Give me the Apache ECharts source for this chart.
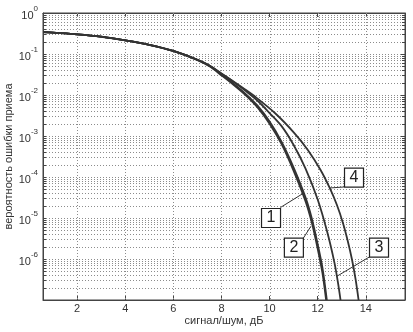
<!DOCTYPE html>
<html>
<head>
<meta charset="utf-8">
<script src="https://cdn.jsdelivr.net/npm/echarts@6/dist/echarts.min.js"></script>
<style>html,body{margin:0;padding:0;background:#fff;}#c{width:413px;height:332px;}</style>
</head>
<body>
<div id="c"></div>
<script>
// ---- data ----
const snr1 = [0.58,1,2,3,4,5,6,7,7.5,8,8.5,9,9.5,10,10.5,11,11.5,11.75,12,12.2,12.35];
const pe1  = [0.344,0.331,0.302,0.263,0.214,0.166,0.1175,0.0708,0.0501,0.0302,0.0178,0.0100,0.00501,0.00200,6.31e-4,1.41e-4,2.51e-5,7.94e-6,1.78e-6,4.47e-7,1e-7];
const snr2 = [0.58,1,2,3,4,5,6,7,7.5,8,8.5,9,9.5,10,10.5,11,11.5,11.75,12,12.2,12.38];
const pe2  = [0.344,0.331,0.302,0.264,0.215,0.168,0.119,0.0725,0.0515,0.0315,0.0188,0.0107,0.0055,0.00225,7.2e-4,1.7e-4,3.1e-5,1.0e-5,2.3e-6,6.0e-7,1e-7];
const snr3 = [0.58,1,2,3,4,5,6,7,7.5,8,8.5,9,9.5,10,10.5,11,11.5,12,12.4,12.7,12.85,12.95];
const pe3  = [0.344,0.331,0.302,0.264,0.215,0.168,0.119,0.0725,0.0525,0.0331,0.0209,0.0126,0.00724,0.00363,0.00174,6.03e-4,1.58e-4,2.82e-5,4.47e-6,7.94e-7,2.51e-7,1e-7];
const snr4 = [0.58,1,2,3,4,5,6,7,7.5,8,8.5,9,9.31,10.22,11.03,11.59,12.12,12.50,12.80,13.05,13.24,13.43,13.58,13.70];
const pe4  = [0.344,0.331,0.302,0.264,0.215,0.168,0.119,0.0725,0.0525,0.0335,0.0214,0.0135,0.0100,3.64e-3,1.18e-3,4.56e-4,1.48e-4,5.40e-5,2.07e-5,7.55e-6,2.90e-6,9.46e-7,3.08e-7,1e-7];
const xTicks = [2,4,6,8,10,12,14];
const xMin = 0.58, xMax = 15.63;
const yMin = 1e-7, yMax = 1;
const xName = 'сигнал/шум, дБ';
const yName = 'вероятность ошибки приема';
const curveLabels = ['1','2','3','4'];
// annotation boxes: [boxX, boxY, leaderFromX, leaderFromY, leaderToX, leaderToY]
const notes = [
  [10.06, 1.0e-5, 10.45, 1.80e-5, 11.40, 4.0e-5],
  [11.01, 1.9e-6, 11.40, 3.2e-6, 11.72, 6.3e-6],
  [14.55, 1.9e-6, 14.17, 1.14e-6, 12.80, 3.8e-7],
  [13.51, 9.7e-5, 13.09, 5.7e-5, 12.50, 5.4e-5]
];

// grid line positions (tick positions of the axes)
const minorY = [];
for (let k = -7; k <= -1; k++) for (let m = 2; m <= 9; m++) minorY.push(m * Math.pow(10, k));
const majorY = [];
for (let k = -6; k <= -1; k++) majorY.push(Math.pow(10, k));

const gridColor = '#8c8c8c';
const curveColor = '#333333';
const txt = '#333';
const font = 'Liberation Sans, Arial, sans-serif';

function pairs(xs, ys) { return xs.map((x, i) => [x, ys[i]]); }
const seriesData = [pairs(snr1, pe1), pairs(snr2, pe2), pairs(snr3, pe3), pairs(snr4, pe4)];

function hLine(params, api) {
  const v = api.value(1);
  const cs = params.coordSys;
  const y = Math.round(api.coord([xMin, v])[1]) + 0.5;
  return {
    type: 'group', children: [
      {type: 'line', shape: {x1: cs.x, y1: y, x2: cs.x + cs.width, y2: y}, style: {stroke: gridColor, lineDash: [1, 2], lineWidth: 1}},
      {type: 'line', shape: {x1: cs.x, y1: y, x2: cs.x + 3, y2: y}, style: {stroke: '#444', lineWidth: 1}},
      {type: 'line', shape: {x1: cs.x + cs.width - 3, y1: y, x2: cs.x + cs.width, y2: y}, style: {stroke: '#444', lineWidth: 1}}
    ]
  };
}
function vLine(params, api) {
  const v = api.value(0);
  const cs = params.coordSys;
  const x = Math.round(api.coord([v, yMax])[0]) + 0.5;
  return {type: 'line', shape: {x1: x, y1: cs.y, x2: x, y2: cs.y + cs.height}, style: {stroke: gridColor, lineDash: [1, 2], lineWidth: 1}};
}

const series = [
  {type: 'custom', data: minorY.concat(majorY).map(v => [xMin, v]), renderItem: hLine, silent: true, z: 1, clip: true, animation: false},
  {type: 'custom', data: xTicks.map(v => [v, yMax]), renderItem: vLine, silent: true, z: 1, clip: true, animation: false}
];

seriesData.forEach((d, i) => {
  const n = notes[i];
  series.push({
    type: 'line', name: curveLabels[i], data: d, z: 3,
    showSymbol: false, smooth: 0.3,
    lineStyle: {color: curveColor, width: 1.8},
    itemStyle: {color: curveColor},
    animation: false,
    markLine: {
      silent: true, symbol: 'none', animation: false,
      label: {show: false},
      lineStyle: {color: '#333', width: 1, type: 'solid'},
      data: [[{coord: [n[2], n[3]]}, {coord: [n[4], n[5]]}]]
    },
    markPoint: {
      silent: true, animation: false,
      symbol: 'rect', symbolSize: [19, 19],
      itemStyle: {color: '#fff', borderColor: '#222', borderWidth: 1.2},
      label: {show: true, position: 'inside', formatter: curveLabels[i], fontSize: 16, color: '#222', fontFamily: font},
      data: [{coord: [n[0], n[1]]}]
    }
  });
});

const option = {
  backgroundColor: '#fff',
  animation: false,
  grid: {left: 43, right: 8, top: 13, bottom: 32, containLabel: false, outerBoundsMode: 'none', show: true, borderColor: '#444', borderWidth: 1, backgroundColor: 'transparent'},
  xAxis: [{
    type: 'value', min: xMin, max: xMax, position: 'bottom',
    name: xName, nameLocation: 'middle', nameGap: 15, nameMoveOverlap: false,
    nameTextStyle: {fontSize: 11, color: txt, fontFamily: font},
    axisLine: {show: true, lineStyle: {color: '#444'}},
    axisTick: {show: true, inside: true, length: 4, customValues: xTicks, lineStyle: {color: '#444'}},
    axisLabel: {show: true, customValues: xTicks, margin: 3, fontSize: 11, color: txt, fontFamily: font},
    splitLine: {show: false}
  }, {
    type: 'value', min: xMin, max: xMax, position: 'top',
    axisLine: {show: true, lineStyle: {color: '#444'}},
    axisTick: {show: true, inside: true, length: 4, customValues: xTicks, lineStyle: {color: '#444'}},
    axisLabel: {show: false},
    splitLine: {show: false}
  }],
  yAxis: [{
    type: 'log', logBase: 10, min: yMin, max: yMax, position: 'left',
    name: yName, nameLocation: 'middle', nameGap: 29, nameMoveOverlap: false,
    nameTextStyle: {fontSize: 11, color: txt, fontFamily: font},
    axisLine: {show: true, lineStyle: {color: '#444'}},
    axisTick: {show: true, inside: true, length: 4, lineStyle: {color: '#444'}},
    axisLabel: {
      show: true, margin: 5, showMinLabel: false,
      formatter: function (v) { const e = Math.round(Math.log10(v)); return '{b|10}{s|' + e + '}'; },
      rich: {
        b: {fontSize: 11, color: txt, fontFamily: font, lineHeight: 16, verticalAlign: 'bottom'},
        s: {fontSize: 8, color: txt, fontFamily: font, lineHeight: 16, verticalAlign: 'top'}
      }
    },
    splitLine: {show: false}
  }, {
    type: 'log', logBase: 10, min: yMin, max: yMax, position: 'right',
    axisLine: {show: true, lineStyle: {color: '#444'}},
    axisTick: {show: true, inside: true, length: 4, lineStyle: {color: '#444'}},
    axisLabel: {show: false},
    splitLine: {show: false}
  }],
  series: series
};

const chart = echarts.init(document.getElementById('c'), null, {renderer: 'canvas'});
chart.setOption(option);
</script>
</body>
</html>
